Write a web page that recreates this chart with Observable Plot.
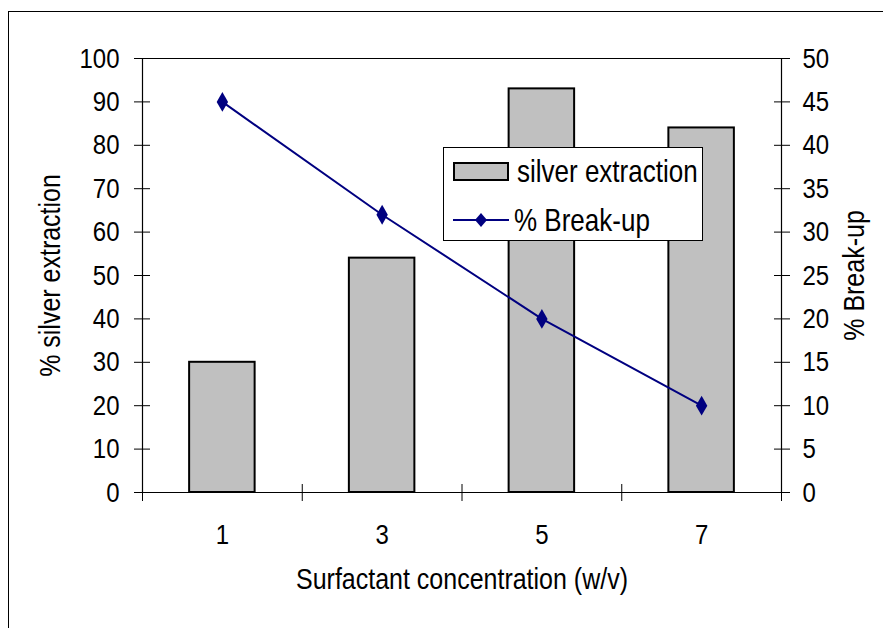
<!DOCTYPE html>
<html>
<head>
<meta charset="utf-8">
<script src="https://cdn.jsdelivr.net/npm/d3@7"></script>
<script src="https://cdn.jsdelivr.net/npm/@observablehq/plot@0.6"></script>
<style>
  body { margin: 0; background: #fff; }
  #wrap { position: relative; width: 883px; height: 628px; overflow: hidden; background: #fff; font-family: "Liberation Sans", Arial, sans-serif; }
  #frame { position: absolute; left: 8px; top: 11px; width: 1000px; height: 1000px; border-left: 1.5px solid #000; border-top: 1.5px solid #000; box-sizing: border-box; }
  #chart { position: absolute; left: 0; top: 0; }
  #legend { position: absolute; left: 443px; top: 147px; width: 260px; height: 94px; border: 1px solid #000; background: #fff; box-sizing: border-box; font-size: 26px; color: #000; }
  .row { position: absolute; left: 0; height: 30px; display: flex; align-items: center; }
  .row span { display: inline-block; transform: scaleY(1.18); transform-origin: center; }
  .sw { width: 52px; height: 15px; background: #c0c0c0; border: 2px solid #000; margin-left: 9px; margin-right: 8px; }
  .ln { position: relative; width: 56px; height: 30px; margin-left: 9px; margin-right: 5px; }
</style>
</head>
<body>
<div id="wrap">
  <div id="frame"></div>
  <div id="chart"></div>
  <div id="legend">
    <div class="row" style="top:8px"><div class="sw"></div><span>silver extraction</span></div>
    <div class="row" style="top:57px"><div class="ln"><svg width="56" height="30"><line x1="0" y1="15" x2="56" y2="15" stroke="#000080" stroke-width="2"/><path d="M28,8 L34,15 L28,22 L22,15 Z" fill="#000080"/></svg></div><span>% Break-up</span></div>
  </div>
</div>
<script>
const categories = [1, 3, 5, 7];
const silverExtraction = [30, 54, 93, 84];
const breakUp = [45, 32, 20, 10];
const leftTicks = [0, 10, 20, 30, 40, 50, 60, 70, 80, 90, 100];
const rightTicks = [0, 5, 10, 15, 20, 25, 30, 35, 40, 45, 50];
const categoryBoundaries = [0, 2, 4, 6, 8];

const data = categories.map((c, i) => ({c, silver: silverExtraction[i], breakup: breakUp[i]}));
const rightScale = 2; // right axis 0-50 maps onto left axis 0-100

const chart = Plot.plot({
  width: 883,
  height: 628,
  marginLeft: 142,
  marginRight: 102,
  marginTop: 58,
  marginBottom: 136,
  x: {domain: [0, 8], label: null},
  y: {domain: [0, 100], label: null},
  style: {fontFamily: "'Liberation Sans', Arial, sans-serif", fontSize: "24px", color: "#000", background: "transparent"},
  marks: [
    Plot.rectY(data, {x1: d => d.c - 0.41, x2: d => d.c + 0.41, y1: 0, y2: "silver", fill: "#c0c0c0", stroke: "#000", strokeWidth: 2}),
    Plot.ruleX([0, 8], {stroke: "#000", strokeWidth: 1.2}),
    Plot.ruleY([0, 100], {stroke: "#000", strokeWidth: 1.2}),
    Plot.axisY({anchor: "left", ticks: leftTicks, tickSize: 8, tickPadding: 15, label: null, fontSize: 24, strokeOpacity: 1}),
    Plot.axisY({anchor: "left", ticks: leftTicks, tickSize: -8, text: null, label: null, strokeOpacity: 1}),
    Plot.axisY({anchor: "right", ticks: rightTicks.map(d => d * rightScale), tickFormat: d => d / rightScale, tickSize: 8, tickPadding: 13, label: null, fontSize: 24, strokeOpacity: 1}),
    Plot.axisY({anchor: "right", ticks: rightTicks.map(d => d * rightScale), tickSize: -8, text: null, label: null, strokeOpacity: 1}),
    Plot.axisX({ticks: categoryBoundaries, tickSize: 9, text: null, label: null, strokeOpacity: 1}),
    Plot.axisX({ticks: categoryBoundaries, tickSize: -8, text: null, label: null, strokeOpacity: 1}),
    Plot.axisX({ticks: categories, tickSize: 0, tickPadding: 31, label: null, fontSize: 24}),
    Plot.line(data, {x: "c", y: d => d.breakup * rightScale, stroke: "#000080", strokeWidth: 2}),
    Plot.dot(data, {x: "c", y: d => d.breakup * rightScale, symbol: "diamond", r: 6, fill: "#000080", stroke: "none"}),
    Plot.text(["% silver extraction"], {frameAnchor: "left", textAnchor: "middle", dx: -92, rotate: -90, fontSize: 25, fill: "#000"}),
    Plot.text(["% Break-up"], {frameAnchor: "right", textAnchor: "middle", dx: 73, rotate: -90, fontSize: 25, fill: "#000"}),
    Plot.text(["Surfactant concentration (w/v)"], {frameAnchor: "bottom", dy: 96, fontSize: 25, fill: "#000"})
  ]
});
// Taller glyphs, as in the reference rendering
d3.select(chart).selectAll("text").each(function () {
  const t = this.getAttribute("transform");
  if (t && t.includes("translate")) this.setAttribute("transform", t + " scale(1,1.18)");
});
document.getElementById("chart").appendChild(chart);
</script>
</body>
</html>
